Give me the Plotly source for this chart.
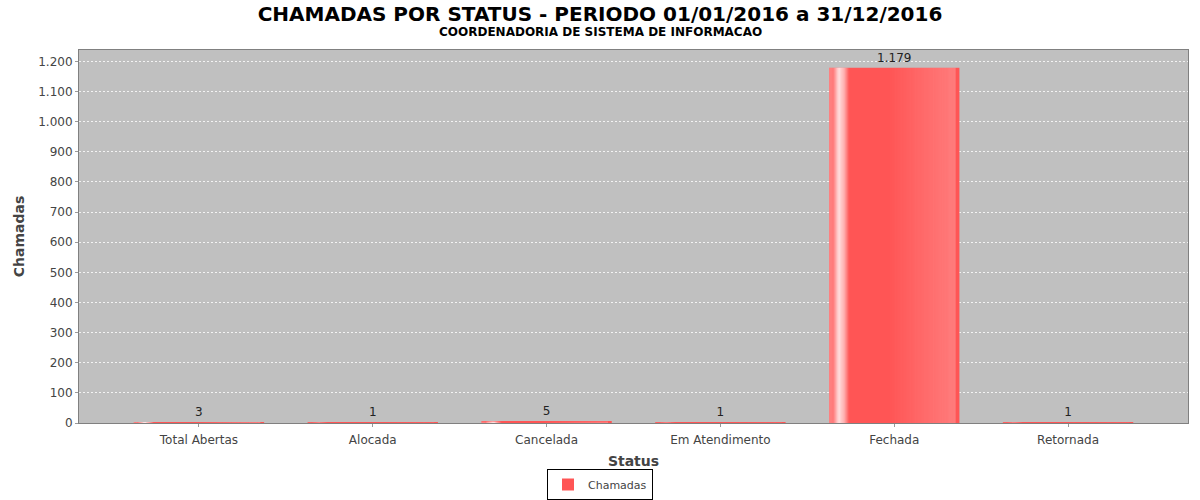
import plotly.graph_objects as go

# dados
status = ["Total Abertas", "Alocada", "Cancelada", "Em Atendimento", "Fechada", "Retornada"]
chamadas = [3, 1, 5, 1, 1179, 1]

titulo = "CHAMADAS POR STATUS - PERIODO 01/01/2016 a 31/12/2016"
subtitulo = "COORDENADORIA DE SISTEMA DE INFORMACAO"

FONT = "DejaVu Sans"
BAR_RED = "#FF5555"
BAR_W = 0.75
W, H = 1200, 500
ML, MR, MT, MB = 79, 12, 50, 77

fig = go.Figure()

# barra principal
fig.add_trace(go.Bar(
    x=status, y=chamadas, name="Chamadas",
    width=BAR_W,
    marker=dict(color=BAR_RED, line=dict(width=0)),
    text=[f"{v:,}".replace(",", ".") for v in chamadas],
    textposition="outside",
    textfont=dict(family=FONT, size=12, color="#222"),
    cliponaxis=False,
))

# faixas finas para imitar o degrade do JFreeChart
strip = 0.0065
n = int(BAR_W / strip)
for i in range(n):
    off = -BAR_W / 2 + i * strip
    rel = (i + 0.5) / n
    # brilho branco perto da borda esquerda
    a = max(0.0, 1 - abs(rel - 0.085) / 0.07) * 0.95
    # tom mais claro do lado direito
    if 0.45 < rel < 0.97:
        a = max(a, 0.2 * (rel - 0.45) / 0.45)
    if rel < 0.03:
        a = max(a, 0.25)
    if a <= 0.01:
        continue
    fig.add_trace(go.Bar(
        x=status, y=chamadas, width=strip * 1.05, offset=off,
        marker=dict(color=f"rgba(255,255,255,{a:.2f})", line=dict(width=0)),
        showlegend=False, hoverinfo="skip",
    ))

# centro da figura em coordenadas "paper"
x_mid = (W / 2 - ML) / (W - ML - MR)

fig.update_layout(
    width=W, height=H,
    barmode="overlay",
    separators=",.",
    paper_bgcolor="white",
    plot_bgcolor="#C0C0C0",
    font=dict(family=FONT, size=12, color="#444"),
    margin=dict(l=ML, r=MR, t=MT, b=MB, autoexpand=False),
    title=dict(
        text=f"<b>{titulo}</b>",
        xref="container", yref="container",
        x=0.5, xanchor="center", y=1 - 13.5 / H, yanchor="middle",
        font=dict(family=FONT, size=20, color="black"),
    ),
    annotations=[
        dict(text=f"<b>{subtitulo}</b>", xref="paper", yref="paper",
             x=x_mid, y=1, yshift=18, xanchor="center", yanchor="middle",
             showarrow=False, font=dict(family=FONT, size=12, color="black")),
    ],
    xaxis=dict(
        title=dict(text="<b>Status</b>", font=dict(size=14, color="#444"), standoff=16),
        range=[-0.69, 5.69],
        automargin=False,
        ticks="outside", ticklen=3, tickcolor="#999",
        ticklabelstandoff=3,
        showline=True, linecolor="#808080", mirror=True,
        showgrid=False,
        tickfont=dict(size=12, color="#444"),
    ),
    yaxis=dict(
        title=dict(text="<b>Chamadas</b>", font=dict(size=14, color="#444"), standoff=10),
        range=[0, 1238],
        automargin=False,
        dtick=100,
        tickformat=",d",
        ticks="outside", ticklen=3, tickcolor="#999",
        showline=True, linecolor="#808080", mirror=True,
        gridcolor="rgba(255,255,255,0.8)", griddash="2px,2px", gridwidth=0.5,
        zeroline=False,
        tickfont=dict(size=12, color="#444"),
    ),
    legend=dict(
        orientation="h",
        xref="container", yref="container",
        x=0.5, xanchor="center", y=0.0, yanchor="bottom",
        bordercolor="black", borderwidth=1, bgcolor="white",
        font=dict(size=11, color="#444"),
        itemwidth=30, tracegroupgap=0,
    ),
)

# tira a margem padrao do body para a figura ocupar a janela toda
fig.write_html("out.html", config={"displayModeBar": False},
               post_script="document.body.style.margin='0';")
